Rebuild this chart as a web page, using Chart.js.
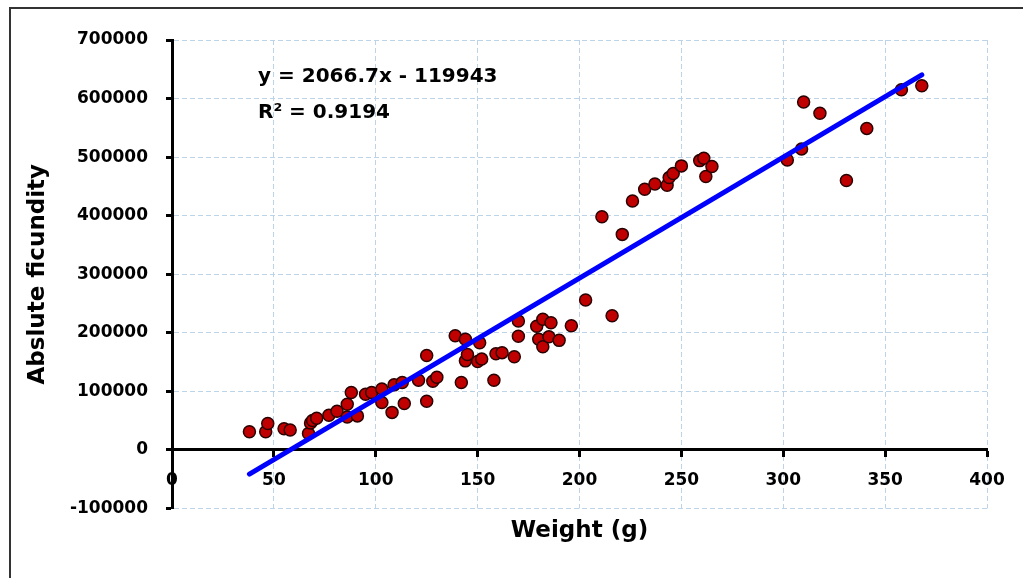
<!DOCTYPE html>
<html>
<head>
<meta charset="utf-8">
<script src="https://cdn.jsdelivr.net/npm/chart.js@4"></script>
<style>
  body { margin: 0; background: #fff; }
  #chartHolder { display: block; }
</style>
</head>
<body>
<canvas id="chartHolder" width="1023" height="578"></canvas>
<script>
// values
const weightG = [38, 46, 47, 55, 58, 67, 68, 69, 71, 77, 81, 86, 86, 88, 91, 95, 98, 103, 103, 108,
    109, 113, 114, 121, 125, 125, 128, 130, 139, 142, 144, 144, 145, 150, 151, 152, 158, 159, 162, 168,
    170, 170, 179, 180, 182, 182, 185, 186, 190, 196, 203, 211, 216, 221, 226, 232, 237, 243, 244, 246,
    250, 259, 261, 262, 265, 302, 309, 310, 318, 331, 341, 358, 368];
const fecundity = [31000, 31000, 45000, 36000, 34000, 28000, 46000, 50000, 54000, 59000, 66000, 56000, 78000, 98000, 58000, 95000, 98000, 104000, 81000, 64000,
    111000, 115000, 79000, 119000, 83000, 161000, 117000, 124000, 195000, 115000, 189000, 152000, 163000, 151000, 183000, 155000, 119000, 164000, 166000, 159000,
    194000, 220000, 211000, 189000, 223000, 176000, 193000, 217000, 187000, 212000, 256000, 398000, 229000, 368000, 425000, 445000, 454000, 452000, 465000, 472000,
    485000, 494000, 498000, 467000, 484000, 495000, 514000, 594000, 575000, 460000, 549000, 615000, 622000];

// trendline end points (y = 2066.7x - 119943)
const trendX = [38, 368];
const trendY = [-41400, 640600];
const equationText = "y = 2066.7x - 119943";
const r2Text = "R\u00B2 = 0.9194";

const xTitle = "Weight (g)";
const yTitle = "Abslute ficundity";

const fontFamily = "'DejaVu Sans', sans-serif";
const gridColor = "#bcd3e8";

const chartHolder = document.getElementById("chartHolder");

const extras = {
    id: "extras",
    beforeDraw(chart) {
        const ctx = chart.ctx;
        ctx.save();
        ctx.strokeStyle = "#333";
        ctx.lineWidth = 2;
        ctx.beginPath();
        ctx.moveTo(10, 578);
        ctx.lineTo(10, 8);
        ctx.lineTo(1023, 8);
        ctx.stroke();
        ctx.restore();
    },
    afterDraw(chart) {
        const ctx = chart.ctx;
        ctx.save();
        ctx.fillStyle = "#000";
        ctx.font = "bold 20px " + fontFamily;
        ctx.textAlign = "left";
        ctx.textBaseline = "alphabetic";
        ctx.fillText(equationText, 258, 82);
        ctx.fillText(r2Text, 258, 118);
        ctx.restore();
    }
};

const scatterData = weightG.map((w, i) => ({x: w, y: fecundity[i]}));
const trendData = trendX.map((w, i) => ({x: w, y: trendY[i]}));

new Chart(chartHolder, {
    type: "scatter",
    data: {
        datasets: [
            {
                data: trendData,
                showLine: true,
                borderColor: "#0000ff",
                borderWidth: 5,
                borderCapStyle: "round",
                pointRadius: 0,
                order: 0
            },
            {
                data: scatterData,
                backgroundColor: "#c00000",
                borderColor: "#2a0000",
                borderWidth: 1.5,
                pointRadius: 6,
                order: 1
            }
        ]
    },
    options: {
        responsive: false,
        animation: false,
        devicePixelRatio: 1,
        layout: {
            padding: {left: 10, top: 40, right: 36, bottom: 13}
        },
        plugins: {
            legend: {display: false},
            tooltip: {enabled: false},
            title: {
                display: true,
                text: xTitle,
                position: "bottom",
                fullSize: false,
                color: "#000",
                font: {family: fontFamily, size: 23, weight: "bold"},
                padding: {top: 9, bottom: 20}
            }
        },
        scales: {
            x: {
                type: "linear",
                position: {y: 0},
                min: 0,
                max: 400,
                afterFit: (scale) => { scale.height = 0; },
                ticks: {
                    stepSize: 50,
                    padding: 15,
                    color: "#000",
                    font: {family: fontFamily, size: 17, weight: "bold"}
                },
                grid: {
                    color: gridColor,
                    lineWidth: 1,
                    tickLength: 6,
                    tickColor: "#000",
                    tickWidth: 3,
                    tickBorderDash: []
                },
                border: {color: "#000", width: 3, dash: [5, 3]}
            },
            y: {
                type: "linear",
                position: "left",
                min: -100000,
                max: 700000,
                afterFit: (scale) => { scale.width = 162; },
                ticks: {
                    stepSize: 100000,
                    padding: 18,
                    color: "#000",
                    font: {family: fontFamily, size: 17, weight: "bold"},
                    callback: (value) => String(value)
                },
                grid: {
                    color: gridColor,
                    lineWidth: 1,
                    tickLength: 6,
                    tickColor: "#000",
                    tickWidth: 3,
                    tickBorderDash: []
                },
                border: {color: "#000", width: 3, dash: [5, 3]},
                title: {
                    display: true,
                    text: yTitle,
                    color: "#000",
                    font: {family: fontFamily, size: 23, weight: "bold"},
                    padding: {top: 14, bottom: 0}
                }
            }
        }
    },
    plugins: [extras]
});
</script>
</body>
</html>
